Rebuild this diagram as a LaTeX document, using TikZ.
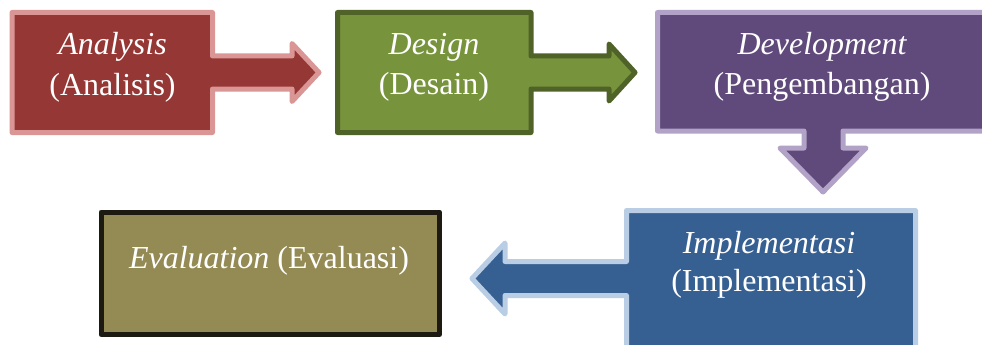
\documentclass[tikz,border=0pt]{standalone}
\usepackage{fontspec}
\setmainfont{Liberation Serif}
\definecolor{anaFill}{HTML}{953735}
\definecolor{anaLine}{HTML}{D99694}
\definecolor{desFill}{HTML}{77933C}
\definecolor{desLine}{HTML}{4F6228}
\definecolor{devFill}{HTML}{604A7B}
\definecolor{devLine}{HTML}{B3A2C7}
\definecolor{impFill}{HTML}{376092}
\definecolor{impLine}{HTML}{B9CDE5}
\definecolor{evaFill}{HTML}{948A54}
\definecolor{evaLine}{HTML}{1D1B11}
\tikzset{
  shapebox/.style={line width=5pt, line join=round},
  lbl/.style={anchor=base, text=white, inner sep=0pt, font=\fontsize{32}{38}\selectfont}
}
\begin{document}
\begin{tikzpicture}[x=1pt,y=-1pt]
\path[use as bounding box, clip] (0,0) rectangle (982,345);
% Analysis
\draw[shapebox, fill=anaFill, draw=anaLine]
  (12,12.5) -- (212.5,12.5) -- (212.5,56) -- (292,56) -- (292,43.5) -- (319,72.5)
  -- (292,101.5) -- (292,89) -- (212.5,89) -- (212.5,132.5) -- (12,132.5) -- cycle;
% Design
\draw[shapebox, fill=desFill, draw=desLine]
  (337.5,12.5) -- (531,12.5) -- (531,56) -- (609,56) -- (609,44) -- (635,72.5)
  -- (609,101) -- (609,89) -- (531,89) -- (531,132.5) -- (337.5,132.5) -- cycle;
% Development
\draw[shapebox, fill=devFill, draw=devLine]
  (657.5,12.5) -- (986,12.5) -- (986,131) -- (843,131) -- (843,148) -- (866,148)
  -- (823,192) -- (780,148) -- (804,148) -- (804,131) -- (657.5,131) -- cycle;
% Implementasi
\draw[shapebox, fill=impFill, draw=impLine]
  (626.5,210.5) -- (915.5,210.5) -- (915.5,350) -- (626.5,350) -- (626.5,295.5)
  -- (505,295.5) -- (505,314) -- (472,278.5) -- (505,243) -- (505,261.5)
  -- (626.5,261.5) -- cycle;
% Evaluation
\draw[shapebox, fill=evaFill, draw=evaLine] (101,212) rectangle (439.5,334.5);
% Labels
\node[lbl] (ana1) at (112.5,55) {\itshape Analysis};
\node[lbl] (ana2) at (112.5,95) {(Analisis)};
\node[lbl] (des1) at (434,55) {\itshape Design};
\node[lbl] (des2) at (434,94) {(Desain)};
\node[lbl] (dev1) at (822,55) {\itshape Development};
\node[lbl] (dev2) at (822,94) {(Pengembangan)};
\node[lbl] (imp1) at (769,253) {\itshape Implementasi};
\node[lbl] (imp2) at (769,291) {(Implementasi)};
\node[lbl] (eva1) at (269,268) {\textit{Evaluation} (Evaluasi)};
\end{tikzpicture}
\end{document}
